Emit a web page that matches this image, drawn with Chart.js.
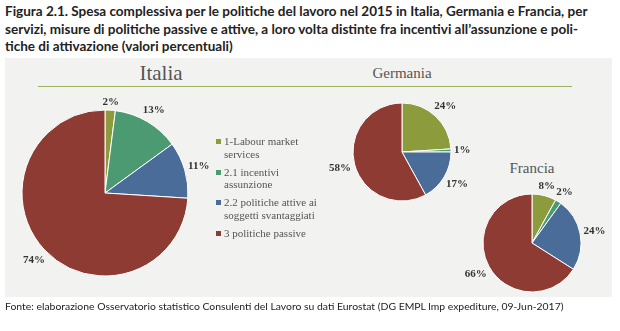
<!DOCTYPE html>
<html>
<head>
<meta charset="utf-8">
<script src="https://cdn.jsdelivr.net/npm/chart.js@4.4.0/dist/chart.umd.min.js"></script>
<style>
  body { margin: 0; width: 620px; height: 331px; background: #fff; position: relative; overflow: hidden; }
  #title { position: absolute; left: 5px; top: 3px; font: bold 13.5px Lato, sans-serif; line-height: 17.5px; color: #222; white-space: nowrap; }
  #panel { position: absolute; left: 5px; top: 58px; width: 607px; height: 239px; background: #f2f2f0; }
  .ptitle { position: absolute; font-family: "Liberation Serif", serif; color: #555; white-space: nowrap; transform: translateX(-50%); }
  #rule { position: absolute; left: 38px; top: 86px; width: 534px; height: 0; border-top: 1.5px solid #9caf5c; }
  canvas { position: absolute; }
  #legend { position: absolute; left: 216px; top: 135px; width: 104px; font: 11px "Liberation Serif", serif; color: #555; line-height: 12.5px; }
  .item { position: relative; padding-left: 8px; margin-bottom: 5.5px; }
  .item span { position: absolute; left: 0; top: 4px; width: 5px; height: 5px; }
  #source { position: absolute; left: 5px; top: 300px; font: 10.4px Lato, sans-serif; color: #222; white-space: nowrap; }
</style>
</head>
<body>
<div id="title">Figura 2.1. Spesa complessiva per le politiche del lavoro nel 2015 in Italia, Germania e Francia, per<br>servizi, misure di politiche passive e attive, a loro volta distinte fra incentivi all’assunzione e poli-<br>tiche di attivazione (valori percentuali)</div>
<div id="panel"></div>
<div id="rule"></div>
<div class="ptitle" style="left:161px; top:61px; font-size:21px;">Italia</div>
<div class="ptitle" style="left:402px; top:65px; font-size:15px;">Germania</div>
<div class="ptitle" style="left:532px; top:160px; font-size:15px;">Francia</div>
<canvas id="italia" width="230" height="220" style="left:-10px; top:83px;"></canvas>
<canvas id="germania" width="160" height="150" style="left:322px; top:77px;"></canvas>
<canvas id="francia" width="160" height="140" style="left:452px; top:173px;"></canvas>
<div id="legend"></div>
<div id="source">Fonte: elaborazione Osservatorio statistico Consulenti del Lavoro su dati Eurostat (DG EMPL lmp expediture, 09-Jun-2017)</div>
<script>
const categories = ['1-Labour market services', '2.1 incentivi assunzione', '2.2 politiche attive ai soggetti svantaggiati', '3 politiche passive'];
const italiaValues = [2, 13, 11, 74];
const germaniaValues = [24, 1, 17, 58];
const franciaValues = [8, 2, 24, 66];
const sliceColors = ['#8c9c3c', '#4b9a72', '#4a6c99', '#8e3b33'];

// percent labels just outside each slice
const outsideLabels = {
  id: 'outsideLabels',
  afterDatasetsDraw(chart) {
    const ctx = chart.ctx;
    const meta = chart.getDatasetMeta(0);
    const data = chart.data.datasets[0].data;
    ctx.save();
    ctx.font = 'bold 11px "Liberation Serif"';
    ctx.fillStyle = '#333';
    ctx.textAlign = 'center';
    ctx.textBaseline = 'middle';
    meta.data.forEach((arc, i) => {
      const mid = (arc.startAngle + arc.endAngle) / 2;
      const txt = data[i] + '%';
      const w = ctx.measureText(txt).width;
      const off = 3 + Math.abs(Math.cos(mid)) * w / 2 + Math.abs(Math.sin(mid)) * 5;
      const r = arc.outerRadius + off;
      ctx.fillText(txt, arc.x + Math.cos(mid) * r, arc.y + Math.sin(mid) * r);
    });
    ctx.restore();
  }
};

function makePie(id, values, radius) {
  new Chart(document.getElementById(id), {
    type: 'pie',
    data: {
      labels: categories,
      datasets: [{
        data: values,
        backgroundColor: sliceColors,
        borderColor: '#ffffff',
        borderWidth: 1
      }]
    },
    options: {
      responsive: false,
      animation: false,
      radius: radius,
      layout: { padding: 0 },
      plugins: { legend: { display: false }, tooltip: { enabled: false } }
    },
    plugins: [outsideLabels]
  });
}

makePie('italia', italiaValues, 83);
makePie('germania', germaniaValues, 49);
makePie('francia', franciaValues, 49);

const legend = document.getElementById('legend');
categories.forEach((c, i) => {
  const d = document.createElement('div');
  d.className = 'item';
  d.innerHTML = '<span style="background:' + sliceColors[i] + '"></span>' + c;
  legend.appendChild(d);
});
</script>
</body>
</html>
